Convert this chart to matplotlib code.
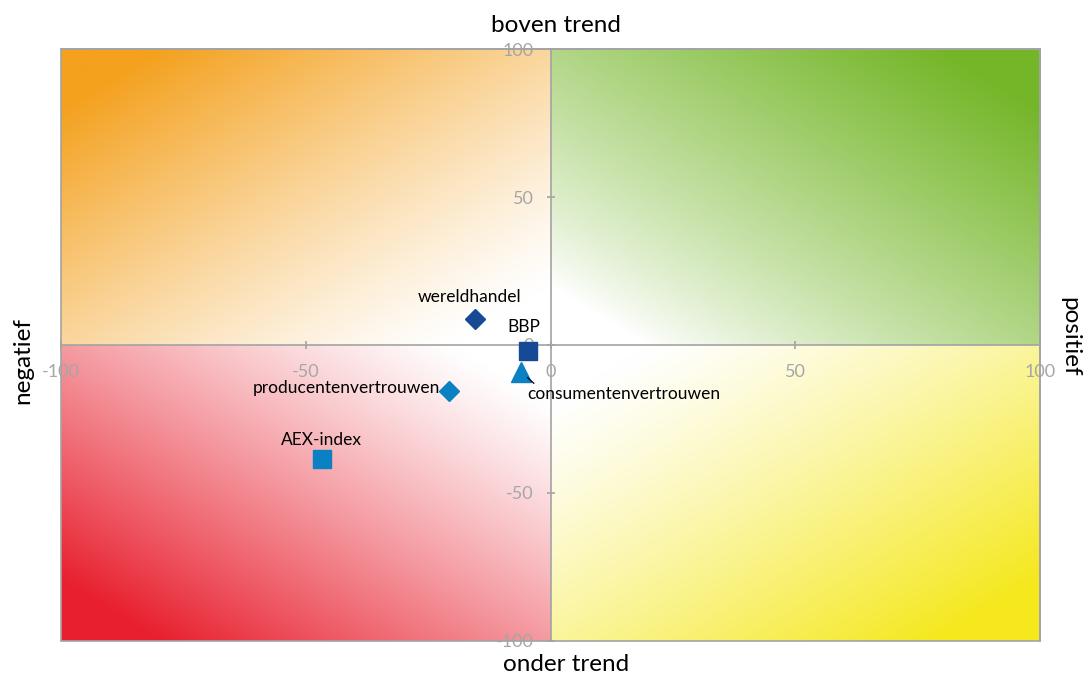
import matplotlib
matplotlib.use("Agg")
import matplotlib.pyplot as plt
import numpy as np
from matplotlib.colors import to_rgb
from matplotlib.patches import Rectangle

plt.rcParams['font.family'] = ['Lato', 'DejaVu Sans']
plt.rcParams['axes.unicode_minus'] = False

# indicators: afwijking t.o.v. trend
names = ["wereldhandel", "BBP", "consumentenvertrouwen", "producentenvertrouwen", "AEX-index"]
x_vals = [-15.5, -4.7, -6.0, -20.7, -46.7]
y_vals = [8.7, -2.0, -9.1, -15.6, -38.6]
ticks = [-100, -50, 0, 50, 100]

markers = ["D", "s", "^", "D", "s"]
sizes = [10, 13.5, 14, 10, 13]
colors = ["#174a94", "#174a94", "#0b80c3", "#0b80c3", "#0b80c3"]
# label offsets in points (dx, dy)
offsets = [(-4, 16), (-3, 17), (74, -16), (-74, 2), (0, 14)]

# quadrant colours: (sign x, sign y, colour, gamma)
quadrants = [(-1, 1, "#f4a11e", 1.2), (1, 1, "#74b628", 0.85),
             (-1, -1, "#e81f2e", 1.15), (1, -1, "#f5e81c", 1.2)]


def quadrant_image(ax, sx, sy, color, gamma):
    g = np.linspace(0, 1, 300)
    gx, gy = np.meshgrid(g, g)
    s = (gx + gy) / 2
    t = np.clip((s - 0.1) / 0.8, 0, 1) ** gamma
    rgb = np.array(to_rgb(color))
    img = 1 - t[..., None] * (1 - rgb)
    ax.imshow(img, extent=[0, 100 * sx, 0, 100 * sy], origin="lower",
              aspect="auto", interpolation="bilinear", zorder=0)


fig = plt.figure(figsize=(10.86, 6.77), dpi=100)
ax = fig.add_axes([0.0562, 0.0532, 0.9015, 0.8744])

for sx, sy, c, gm in quadrants:
    quadrant_image(ax, sx, sy, c, gm)

for i in range(len(names)):
    ax.plot(x_vals[i], y_vals[i], marker=markers[i], markersize=sizes[i],
            color=colors[i], linestyle="none", zorder=3)
    if names[i] == "consumentenvertrouwen":
        ax.annotate(names[i], (x_vals[i], y_vals[i]), xytext=offsets[i],
                    textcoords="offset points", ha="center", va="center", fontsize=12.5,
                    arrowprops=dict(arrowstyle="-", color="black", lw=0.9,
                                    shrinkA=0, shrinkB=6,
                                    relpos=(0.05, 1.0)), zorder=4)
    else:
        ax.annotate(names[i], (x_vals[i], y_vals[i]), xytext=offsets[i],
                    textcoords="offset points", ha="center", va="center", fontsize=12.5, zorder=4)

ax.set_xlim(-100, 100)
ax.set_ylim(-100, 100)
ax.set_xticks(ticks)
ax.set_yticks(ticks)

axis_color = "#a3a3a3"
ax.spines["left"].set_position("zero")
ax.spines["bottom"].set_position("zero")
for s in ax.spines.values():
    s.set_color(axis_color)
    s.set_linewidth(1.2)
    s.set_zorder(2)
ax.add_patch(Rectangle((0, 0), 1, 1, transform=ax.transAxes, fill=False,
                       edgecolor=axis_color, linewidth=1.2, zorder=2, clip_on=False))

ax.tick_params(axis="both", direction="inout", length=6, width=1.2, color=axis_color,
               labelcolor="#a6a6a6", labelsize=13)
ax.tick_params(axis="x", pad=11)
ax.tick_params(axis="y", pad=9)
for lbl in ax.get_xticklabels() + ax.get_yticklabels():
    lbl.set_zorder(5)

fig.text(0.512, 0.963, "boven trend", ha="center", va="center", fontsize=17.5)
fig.text(0.521, 0.018, "onder trend", ha="center", va="center", fontsize=17.5)
fig.text(0.021, 0.467, "negatief", ha="center", va="center", fontsize=17.5, rotation=90)
fig.text(0.985, 0.502, "positief", ha="center", va="center", fontsize=17.5, rotation=270)

plt.savefig("out.png", dpi=100)
